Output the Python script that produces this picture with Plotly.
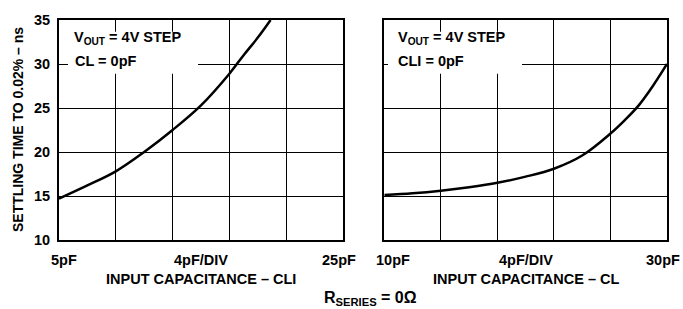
import plotly.graph_objects as go

# Data
cli_pf = [5, 7, 9, 11, 13, 15, 17, 18, 19, 19.9]
cli_ns = [14.7, 16.2, 17.8, 20.0, 22.5, 25.3, 28.9, 31.0, 33.0, 35.0]
cl_pf = [10, 12, 14, 16, 18, 20, 22, 24, 26, 27, 28, 29, 30]
cl_ns = [15.1, 15.3, 15.6, 16.0, 16.5, 17.2, 18.1, 19.6, 22.1, 23.6, 25.3, 27.5, 30.0]

y_ticks = [10, 15, 20, 25, 30, 35]
y_tick_text = ["<b>%d</b>" % v for v in y_ticks]

FONT = "Liberation Sans, Arial, sans-serif"
FS = 14.5
W, H = 683, 309
ML, MR, MT, MB = 59, 16, 15, 69
PW = W - ML - MR
PH = H - MT - MB


def px(x):
    return (x - ML) / PW


def py(y):
    return (H - MB - y) / PH


fig = go.Figure()
fig.add_trace(go.Scatter(x=cli_pf, y=cli_ns, mode="lines", line=dict(color="black", width=2.5, shape="spline"),
                         xaxis="x", yaxis="y", showlegend=False, hoverinfo="skip"))
fig.add_trace(go.Scatter(x=cl_pf, y=cl_ns, mode="lines", line=dict(color="black", width=2.5, shape="spline"),
                         xaxis="x2", yaxis="y2", showlegend=False, hoverinfo="skip"))

axcommon = dict(showgrid=True, gridcolor="black", gridwidth=1, showline=True, linecolor="black",
                linewidth=2, mirror=True, zeroline=False, ticks="")

fig.update_layout(
    width=W, height=H,
    margin=dict(l=ML, r=MR, t=MT, b=MB),
    paper_bgcolor="white", plot_bgcolor="white",
    font=dict(family=FONT, color="black"),
    xaxis=dict(domain=[0, px(343)], range=[5, 25], dtick=4, tick0=5, showticklabels=False, **axcommon),
    xaxis2=dict(domain=[px(384.3), 1], range=[10, 30], dtick=4, tick0=10, showticklabels=False, **axcommon),
    yaxis=dict(domain=[0, 1], range=[10, 35], tickvals=y_ticks, ticktext=y_tick_text, anchor="x",
               tickfont=dict(size=FS, family=FONT, color="black"), ticklabelstandoff=4, **axcommon),
    yaxis2=dict(domain=[0, 1], range=[10, 35], tickvals=y_ticks, showticklabels=False, anchor="x2", **axcommon),
)

# white boxes behind condition text
for x0, x1 in [(68, 198), (388, 522)]:
    fig.add_shape(type="rect", xref="paper", yref="paper", x0=px(x0), x1=px(x1), y0=py(70), y1=py(27),
                  fillcolor="white", line=dict(width=0), layer="above")

ann = []


def A(text, x, y, size=FS, xanchor="center", yanchor="middle", angle=0):
    ann.append(dict(text="<b>" + text + "</b>", x=x, y=y, xref="paper", yref="paper", showarrow=False,
                    xanchor=xanchor, yanchor=yanchor, textangle=angle,
                    font=dict(size=size, family=FONT, color="black")))


A("V<sub>OUT</sub> = 4V STEP", px(72), py(33), xanchor="left")
A("CL = 0pF", px(73), py(57), xanchor="left")
A("V<sub>OUT</sub> = 4V STEP", px(395.5), py(33), xanchor="left")
A("CLI = 0pF", px(395.5), py(57), xanchor="left")

A("5pF", px(64), py(260))
A("4pF/DIV", px(201), py(260))
A("25pF", px(339), py(260))
A("10pF", px(392.5), py(260))
A("4pF/DIV", px(525.5), py(260))
A("30pF", px(663), py(260))

A("INPUT CAPACITANCE – CLI", px(201), py(280))
A("INPUT CAPACITANCE – CL", px(525.5), py(280))
A("R<sub>SERIES</sub> = 0Ω", px(370), py(300), size=16)
A("SETTLING TIME TO 0.02% – ns", px(18), py(127.5), size=14, angle=-90)

fig.update_layout(annotations=ann)
fig.write_html("out.html", config={"displayModeBar": False},
               post_script="document.body.style.margin='0';document.body.style.overflow='hidden';")
